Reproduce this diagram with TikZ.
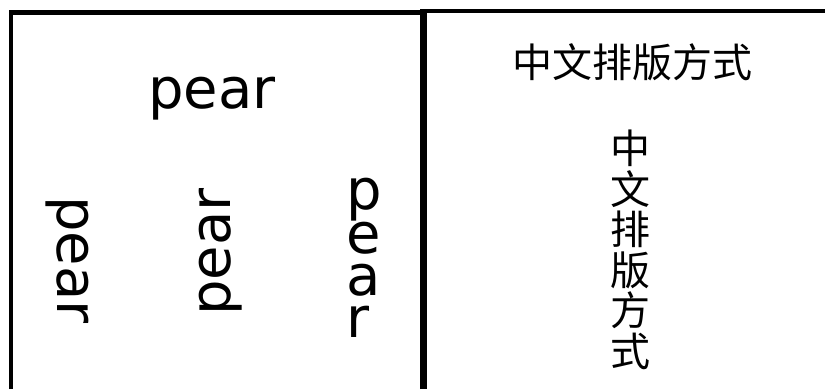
\documentclass[tikz,border=0pt]{standalone}
\usepackage{fontspec}
\setmainfont{DejaVu Sans}
\newfontfamily\cjk{Noto Sans CJK SC}
\begin{document}
\begin{tikzpicture}[x=1pt,y=-1pt,
  frame/.style={draw=black,line join=miter},
  pearfont/.style={inner sep=0pt,font=\fontsize{56pt}{42pt}\selectfont},
  cjkfont/.style={inner sep=0pt,font=\cjk\fontsize{40pt}{40.5pt}\selectfont}]
\useasboundingbox[fill=white] (0,0) rectangle (825,389);
% frames
\draw[frame,line width=4.5pt] (11,389) -- (11,12.5) -- (423.5,12.5);
\draw[frame,line width=4pt] (423.5,11) -- (825,11);
\draw[frame,line width=7pt] (423.5,389) -- (423.5,9);
% left panel
\node[pearfont,anchor=base] (ph) at (212,108) {pear};
\node[pearfont,anchor=base,rotate=-90] (pcw) at (57,260) {pear};
\node[pearfont,anchor=base,rotate=90] (pccw) at (230,252) {pear};
\node[pearfont,anchor=north west,align=left] (pst) at (346,178) {p\\e\\a\\r};
% right panel
\node[cjkfont,anchor=base] (ch) at (632.5,77) {中文排版方式};
\node[cjkfont,anchor=north,align=center] (cv) at (630,130) {中\\文\\排\\版\\方\\式};
\end{tikzpicture}
\end{document}
